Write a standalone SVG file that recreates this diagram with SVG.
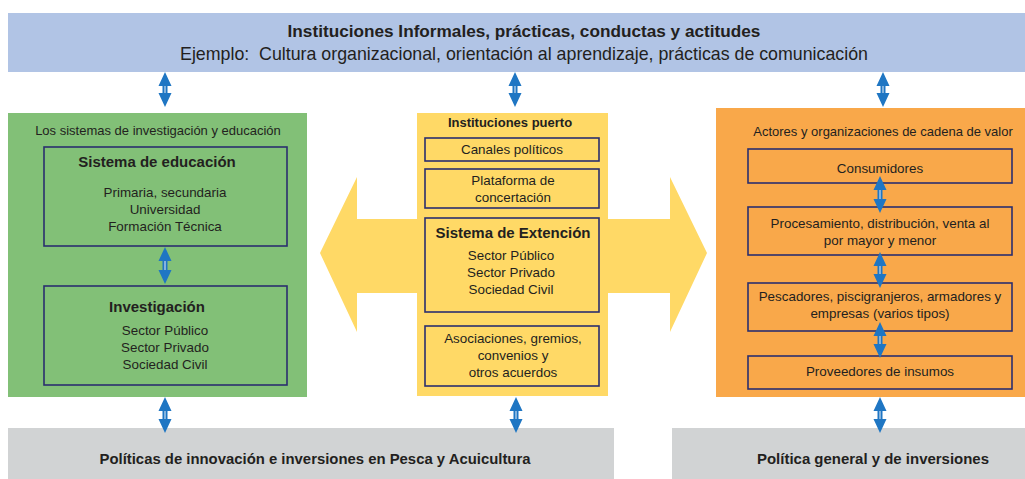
<svg xmlns="http://www.w3.org/2000/svg" width="1025" height="479" viewBox="0 0 1025 479">
<style>
text{font-family:"Liberation Sans",Arial,sans-serif;fill:#231F20;text-anchor:middle}
.b{font-weight:bold}
.t13{font-size:13.4px}
.t12{font-size:13px}
.h15{font-size:15px;font-weight:bold}
.box{stroke:#2B2E6E;stroke-width:1.6}
.arr{fill:#1F76C3}
.shaft{stroke:#fff;stroke-width:0.9}
</style>
<g id="top-bar">
<rect x="8" y="13" width="1017" height="59" fill="#B1C4E5"/>
<text x="524" y="37" class="b" font-size="17.2">Instituciones Informales, prácticas, conductas y actitudes</text>
<text x="524" y="60" font-size="17.8" xml:space="preserve">Ejemplo:  Cultura organizacional, orientación al aprendizaje, prácticas de comunicación</text>
</g>
<g id="big-arrow">
<path d="M320,253 L357,177 L357,219 L670,219 L670,177 L707,253 L670,332 L670,293 L357,293 L357,332 Z" fill="#FFD966"/>
</g>
<g id="green-panel">
<rect x="8" y="113" width="299" height="284" fill="#82C077"/>
<text x="158" y="135" class="t12">Los sistemas de investigación y educación</text>
</g>
<g id="sistema-educacion">
<rect x="44" y="147" width="243" height="99" fill="#82C077" class="box"/>
<text x="157" y="167" class="h15">Sistema de educación</text>
<text x="165" y="197" class="t13">Primaria, secundaria</text>
<text x="165" y="214" class="t13">Universidad</text>
<text x="165" y="231" class="t13">Formación Técnica</text>
</g>
<g id="investigacion">
<rect x="44" y="286" width="243" height="99" fill="#82C077" class="box"/>
<text x="157" y="312" class="h15">Investigación</text>
<text x="165" y="335" class="t13">Sector Público</text>
<text x="165" y="352" class="t13">Sector Privado</text>
<text x="165" y="369" class="t13">Sociedad Civil</text>
</g>
<g id="yellow-panel">
<rect x="417" y="113" width="191" height="283" fill="#FFD966"/>
<text x="510" y="127" class="b t12">Instituciones puerto</text>
</g>
<g id="canales">
<rect x="425" y="138" width="174" height="23" fill="#FFD966" class="box"/>
<text x="512" y="154" class="t13">Canales políticos</text>
</g>
<g id="plataforma">
<rect x="425" y="169" width="174" height="39" fill="#FFD966" class="box"/>
<text x="513" y="185" class="t13">Plataforma de</text>
<text x="513" y="202" class="t13">concertación</text>
</g>
<g id="extension">
<rect x="425" y="218" width="174" height="94" fill="#FFD966" class="box"/>
<text x="513" y="238" class="h15">Sistema de Extención</text>
<text x="511" y="260" class="t13">Sector Público</text>
<text x="511" y="277" class="t13">Sector Privado</text>
<text x="511" y="294" class="t13">Sociedad Civil</text>
</g>
<g id="asociaciones">
<rect x="425" y="326" width="174" height="60" fill="#FFD966" class="box"/>
<text x="513" y="343" class="t13">Asociaciones, gremios,</text>
<text x="513" y="360" class="t13">convenios y</text>
<text x="513" y="377" class="t13">otros acuerdos</text>
</g>
<g id="orange-panel">
<rect x="716" y="108" width="309" height="289" fill="#F9A84A"/>
<text x="883" y="136" class="t12">Actores y organizaciones de cadena de valor</text>
</g>
<g id="consumidores">
<rect x="748" y="149" width="264" height="34" fill="#F9A84A" class="box"/>
<text x="880" y="173" class="t13">Consumidores</text>
</g>
<g id="procesamiento">
<rect x="748" y="207" width="264" height="48" fill="#F9A84A" class="box"/>
<text x="880" y="228" class="t13">Procesamiento, distribución, venta al</text>
<text x="880" y="245" class="t13">por mayor y menor</text>
</g>
<g id="pescadores">
<rect x="748" y="283" width="264" height="48" fill="#F9A84A" class="box"/>
<text x="880" y="301" class="t13">Pescadores, piscigranjeros, armadores y</text>
<text x="880" y="318" class="t13">empresas (varios tipos)</text>
</g>
<g id="proveedores">
<rect x="748" y="356" width="264" height="33" fill="#F9A84A" class="box"/>
<text x="880" y="376" class="t13">Proveedores de insumos</text>
</g>
<g id="politicas-pesca">
<rect x="8" y="428" width="606" height="51" fill="#D1D3D4"/>
<text x="315" y="464" class="b" font-size="15" textLength="431" lengthAdjust="spacingAndGlyphs">Políticas de innovación e inversiones en Pesca y Acuicultura</text>
</g>
<g id="politica-general">
<rect x="672" y="428" width="353" height="51" fill="#D1D3D4"/>
<text x="873" y="464" class="b" font-size="15" textLength="232" lengthAdjust="spacingAndGlyphs">Política general y de inversiones</text>
</g>
<g id="connectors">
<path class="arr" d="M165,72 L171.5,86 L167.5,86 L167.5,93 L171.5,93 L165,107 L158.5,93 L162.5,93 L162.5,86 L158.5,86 Z"/>
<path class="arr" d="M515,72 L521.5,86 L517.5,86 L517.5,93 L521.5,93 L515,107 L508.5,93 L512.5,93 L512.5,86 L508.5,86 Z"/>
<path class="arr" d="M883,72 L889.5,86 L885.5,86 L885.5,93 L889.5,93 L883,107 L876.5,93 L880.5,93 L880.5,86 L876.5,86 Z"/>
<path class="arr" d="M165,247 L171.5,261 L167.5,261 L167.5,270 L171.5,270 L165,284 L158.5,270 L162.5,270 L162.5,261 L158.5,261 Z"/>
<path class="arr" d="M880,176 L886.5,190 L882.5,190 L882.5,199 L886.5,199 L880,213 L873.5,199 L877.5,199 L877.5,190 L873.5,190 Z"/>
<path class="arr" d="M880,252 L886.5,266 L882.5,266 L882.5,274 L886.5,274 L880,288 L873.5,274 L877.5,274 L877.5,266 L873.5,266 Z"/>
<path class="arr" d="M880,322 L886.5,336 L882.5,336 L882.5,344 L886.5,344 L880,358 L873.5,344 L877.5,344 L877.5,336 L873.5,336 Z"/>
<path class="arr" d="M165,397 L171.5,411 L167.5,411 L167.5,419 L171.5,419 L165,433 L158.5,419 L162.5,419 L162.5,411 L158.5,411 Z"/>
<path class="arr" d="M516,397 L522.5,411 L518.5,411 L518.5,419 L522.5,419 L516,433 L509.5,419 L513.5,419 L513.5,411 L509.5,411 Z"/>
<path class="arr" d="M880,397 L886.5,411 L882.5,411 L882.5,419 L886.5,419 L880,433 L873.5,419 L877.5,419 L877.5,411 L873.5,411 Z"/>
<g class="shaft">
<line x1="165" y1="86" x2="165" y2="93"/>
<line x1="515" y1="86" x2="515" y2="93"/>
<line x1="883" y1="86" x2="883" y2="93"/>
<line x1="165" y1="261" x2="165" y2="270"/>
<line x1="880" y1="190" x2="880" y2="199"/>
<line x1="880" y1="266" x2="880" y2="274"/>
<line x1="880" y1="336" x2="880" y2="344"/>
<line x1="165" y1="411" x2="165" y2="419"/>
<line x1="516" y1="411" x2="516" y2="419"/>
<line x1="880" y1="411" x2="880" y2="419"/>
</g>
</g>
</svg>
